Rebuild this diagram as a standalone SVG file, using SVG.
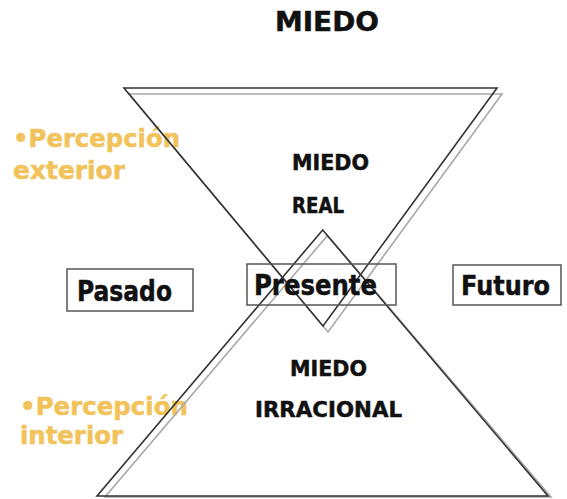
<svg xmlns="http://www.w3.org/2000/svg" width="567" height="499" viewBox="0 0 567 499">
  <style>
    .t { font-family: "DejaVu Sans", Verdana, sans-serif; font-weight: bold; fill: #111; stroke: #111; stroke-width: 0.5; }
    .o { font-family: "DejaVu Sans", Verdana, sans-serif; font-weight: bold; fill: #F1C35A; stroke: #F1C35A; stroke-width: 0.5; }
    .dark { fill: none; stroke: #333; stroke-width: 1.6; stroke-linejoin: miter; }
    .gray { fill: none; stroke: #a8a8a8; stroke-width: 1.6; }
    .box { fill: none; stroke: #555; stroke-width: 1.5; }
  </style>
  <rect width="567" height="499" fill="#fff"/>

  <g id="perception-exterior">
    <text class="o" x="13" y="147" font-size="25" textLength="167" lengthAdjust="spacingAndGlyphs">•Percepción</text>
    <text class="o" x="13" y="179" font-size="25" textLength="112" lengthAdjust="spacingAndGlyphs">exterior</text>
  </g>
  <g id="perception-interior">
    <text class="o" x="20" y="415" font-size="25" textLength="168" lengthAdjust="spacingAndGlyphs">•Percepción</text>
    <text class="o" x="20" y="444" font-size="25" textLength="103" lengthAdjust="spacingAndGlyphs">interior</text>
  </g>

  <g id="triangle-top">
    <polygon class="gray" points="129,94 502,94 328,332"/>
    <polygon class="dark" points="124,88 497,88 323,326"/>
  </g>
  <g id="triangle-bottom">
    <polygon class="gray" points="327.5,235.5 551,497 105,497"/>
    <polygon class="dark" points="322.7,230 548,496 97,496"/>
  </g>

  <g id="title">
    <text class="t" x="275" y="31" font-size="26" textLength="104" lengthAdjust="spacingAndGlyphs">MIEDO</text>
  </g>
  <g id="miedo-real">
    <text class="t" x="292" y="170" font-size="21" textLength="77" lengthAdjust="spacingAndGlyphs">MIEDO</text>
    <text class="t" x="292" y="213" font-size="21" textLength="52" lengthAdjust="spacingAndGlyphs">REAL</text>
  </g>
  <g id="miedo-irracional">
    <text class="t" x="290" y="376" font-size="21" textLength="77" lengthAdjust="spacingAndGlyphs">MIEDO</text>
    <text class="t" x="255" y="417" font-size="21" textLength="147" lengthAdjust="spacingAndGlyphs">IRRACIONAL</text>
  </g>

  <g id="pasado">
    <rect class="box" x="67" y="269" width="126" height="42"/>
    <text class="t" x="77" y="301" font-size="28" textLength="95" lengthAdjust="spacingAndGlyphs">Pasado</text>
  </g>
  <g id="presente">
    <rect class="box" x="247" y="264" width="149" height="41"/>
    <text class="t" x="254" y="295" font-size="29" textLength="123" lengthAdjust="spacingAndGlyphs">Presente</text>
  </g>
  <g id="futuro">
    <rect class="box" x="453" y="265" width="108" height="40"/>
    <text class="t" x="461" y="295" font-size="27" textLength="89" lengthAdjust="spacingAndGlyphs">Futuro</text>
  </g>
</svg>
